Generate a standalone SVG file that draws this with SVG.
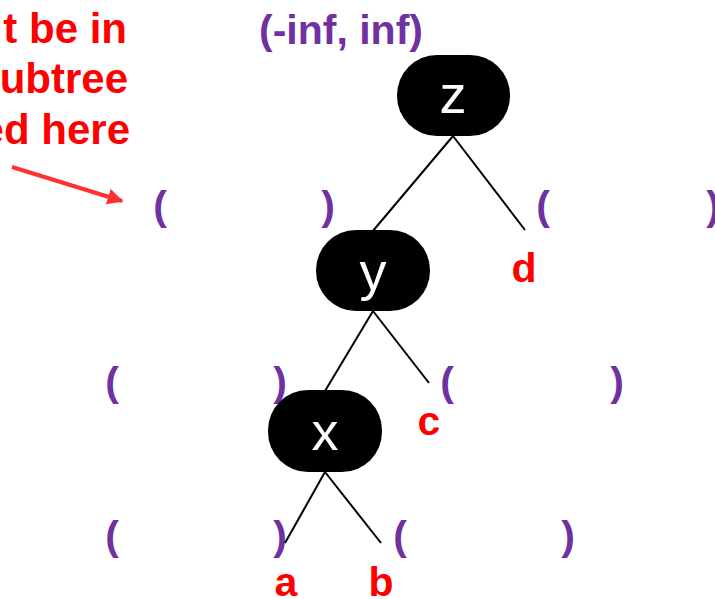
<svg xmlns="http://www.w3.org/2000/svg" width="715" height="599" viewBox="0 0 715 599">
<style>
.lbl{font-family:"Liberation Sans",Arial,sans-serif;font-weight:bold;font-size:41px;fill:#FF0000;text-anchor:middle}
.note{font-family:"Liberation Sans",Arial,sans-serif;font-weight:bold;font-size:42px;fill:#FF0000;text-anchor:end}
.br{font-family:"Liberation Sans",Arial,sans-serif;font-weight:bold;font-size:41px;fill:#7030A0;text-anchor:middle}
.node rect{fill:#000000}
.node text{font-family:"Liberation Sans",Arial,sans-serif;font-size:54px;fill:#FFFFFF;text-anchor:middle}
.edge{stroke:#000000;stroke-width:2;fill:none}
</style>
<defs>
<marker id="ah" viewBox="0 0 10 10" refX="9" refY="5" markerWidth="4" markerHeight="4" orient="auto" markerUnits="strokeWidth">
<path d="M0,0 L10,5 L0,10 z" fill="#FF3030"/>
</marker>
</defs>
<rect width="715" height="599" fill="#FFFFFF"/>
<g id="note">
<text class="note" x="127" y="43">t be in</text>
<text class="note" x="128" y="93">ubtree</text>
<text class="note" x="130" y="144">ed here</text>
<line x1="12" y1="167" x2="122" y2="201" stroke="#FF3030" stroke-width="4" marker-end="url(#ah)"/>
</g>
<text class="br" x="341" y="44" font-size="43">(-inf, inf)</text>
<g id="ranges">
<text class="br" x="160" y="220">(</text>
<text class="br" x="328" y="220">)</text>
<text class="br" x="543" y="220">(</text>
<text class="br" x="713" y="220">)</text>
<text class="br" x="112" y="396">(</text>
<text class="br" x="280" y="396">)</text>
<text class="br" x="447" y="396">(</text>
<text class="br" x="617" y="396">)</text>
<text class="br" x="112" y="550">(</text>
<text class="br" x="280" y="550">)</text>
<text class="br" x="400" y="550">(</text>
<text class="br" x="568" y="550">)</text>
</g>
<g id="connectors">
<line class="edge" x1="453" y1="136" x2="372" y2="232"/>
<line class="edge" x1="453" y1="136" x2="525" y2="230"/>
<line class="edge" x1="373" y1="311" x2="325" y2="391"/>
<line class="edge" x1="373" y1="311" x2="429" y2="383"/>
<line class="edge" x1="325" y1="472" x2="285" y2="543"/>
<line class="edge" x1="325" y1="472" x2="381" y2="543"/>
</g>
<g id="node-z" class="node">
<rect x="397" y="55" width="113" height="81" rx="40" ry="40"/>
<text x="453" y="113">z</text>
</g>
<g id="node-y" class="node">
<rect x="316" y="230" width="114" height="81" rx="40" ry="40"/>
<text x="373" y="290">y</text>
</g>
<g id="node-x" class="node">
<rect x="268" y="390" width="114" height="82" rx="40" ry="40"/>
<text x="325" y="450">x</text>
</g>
<g id="leaf-d"><text class="lbl" x="524" y="282">d</text></g>
<g id="leaf-c"><text class="lbl" x="429" y="435">c</text></g>
<g id="leaf-a"><text class="lbl" x="286" y="596">a</text></g>
<g id="leaf-b"><text class="lbl" x="381" y="596">b</text></g>
</svg>
